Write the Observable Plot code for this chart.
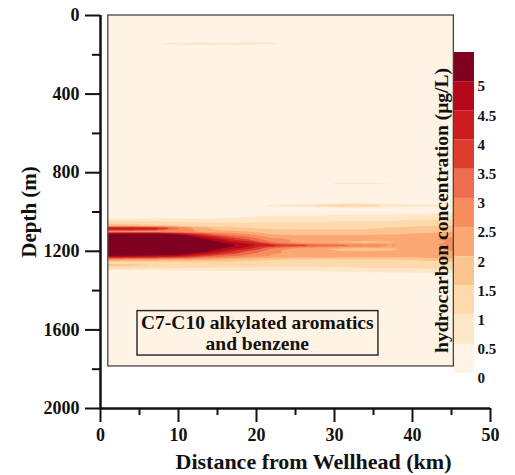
<!DOCTYPE html>
<html>
<head>
<meta charset="utf-8">
<script src="https://cdn.jsdelivr.net/npm/d3@7"></script>
<script src="https://cdn.jsdelivr.net/npm/@observablehq/plot@0.6"></script>
<style>
  html, body { margin: 0; padding: 0; background: #fff; }
  #wrap { position: relative; width: 515px; height: 475px; }
  #main { position: absolute; left: 0; top: 0; }
  #bar { position: absolute; left: 453px; top: 44px; }
</style>
</head>
<body>
<div id="wrap"><div id="main"></div><div id="bar"></div></div>
<script>
// ---- data ----
const distances = [1, 4, 7, 10, 13, 16, 19, 22, 25, 28, 31, 34, 37, 40, 43, 45.3]; // km
const depths = [0, 130, 143, 156, 840, 855, 870, 950, 967, 984, 1025, 1053, 1070, 1079, 1089, 1100,
  1110, 1125, 1140, 1155, 1170, 1185, 1200, 1215, 1227, 1240, 1255, 1270, 1285, 1300, 1330, 1786]; // m
// concentration (µg/L), one row per depth, one column per distance
const concentration = [
  [0,0,0,0,0,0,0,0,0,0,0,0,0,0,0,0],
  [0,0,0,0,0,0,0,0,0,0,0,0,0,0,0,0],
  [0,0,0.55,0.8,1.1,1.2,0.9,0.7,0.4,0,0,0,0,0,0,0],
  [0,0,0,0,0,0,0,0,0,0,0,0,0,0,0,0],
  [0,0,0,0,0,0,0,0,0,0,0,0,0,0,0,0],
  [0,0,0,0,0,0,0,0,0,0.4,0.7,0.7,0.6,0.3,0,0],
  [0,0,0,0,0,0,0,0,0,0,0,0,0,0,0,0],
  [0,0,0,0,0,0,0,0,0,0,0,0,0,0,0,0],
  [0,0,0,0,0,0,0.3,0.6,0.8,1.2,1.6,1.4,1.0,0.8,0.7,0.6],
  [0,0,0,0,0,0,0,0,0,0,0,0,0,0,0.1,0.2],
  [0.2,0.2,0.3,0.3,0.3,0.4,0.5,0.6,0.6,0.6,0.7,0.7,0.7,0.8,0.8,0.8],
  [1.3,1.3,1.2,1.1,1.0,1.0,1.0,1.0,1.0,1.0,1.1,1.1,1.1,1.2,1.2,1.3],
  [1.8,1.8,1.6,1.4,1.3,1.3,1.3,1.2,1.2,1.2,1.3,1.3,1.4,1.4,1.5,1.5],
  [4.4,4.3,4.1,3.0,2.1,1.7,1.5,1.4,1.4,1.4,1.4,1.4,1.5,1.6,1.7,1.8],
  [4.4,4.3,4.1,3.0,2.2,1.8,1.6,1.5,1.5,1.5,1.5,1.5,1.6,1.7,1.8,1.9],
  [2.4,2.4,2.4,2.4,2.3,2.2,2.0,1.7,1.6,1.6,1.6,1.6,1.7,1.8,1.9,2.0],
  [5.2,5.2,5.2,4.6,3.5,2.8,2.4,1.9,1.8,1.8,1.8,1.8,1.9,2.0,2.1,2.2],
  [6,6,6,5.6,4.6,3.6,3.0,2.3,2.2,2.2,2.2,2.2,2.2,2.3,2.4,2.5],
  [6,6,6,6,5.3,4.3,3.5,2.7,2.4,2.3,2.2,2.2,2.2,2.3,2.5,2.6],
  [6,6,6,6,5.8,4.9,4.2,3.0,2.3,2.0,1.9,1.8,1.9,2.1,2.4,2.6],
  [6,6,6,6,6,5.3,4.7,4.3,3.9,3.6,3.3,3.0,2.6,2.4,2.5,2.6],
  [6,6,6,6,5.8,4.9,4.2,3.0,2.4,2.0,1.9,1.8,1.9,2.1,2.4,2.6],
  [6,6,6,6,5.3,4.3,3.4,2.6,2.3,2.1,2.0,2.0,2.0,2.2,2.4,2.5],
  [5.6,5.5,5.4,5.2,4.4,3.6,3.0,2.5,2.4,2.3,2.3,2.3,2.3,2.3,2.4,2.4],
  [4.7,4.6,4.4,4.2,3.5,3.0,2.6,2.4,2.3,2.3,2.2,2.2,2.2,2.2,2.3,2.3],
  [2.8,2.7,2.6,2.4,2.2,2.0,1.8,1.6,1.5,1.5,1.5,1.5,1.5,1.6,1.8,1.9],
  [1.2,1.2,1.2,1.3,1.4,1.4,1.3,1.2,1.2,1.1,1.1,1.1,1.1,1.2,1.3,1.4],
  [1.7,1.6,1.5,1.4,1.3,1.3,1.3,1.2,1.2,1.2,1.2,1.2,1.2,1.3,1.4,1.4],
  [1.2,1.1,1.0,1.0,1.0,0.9,0.9,0.9,0.9,0.9,0.9,1.0,1.0,1.0,1.1,1.1],
  [0.3,0.3,0.3,0.4,0.5,0.5,0.5,0.5,0.5,0.5,0.6,0.6,0.7,0.7,0.7,0.7],
  [0,0,0,0,0,0,0,0,0,0,0,0,0,0.1,0.2,0.2],
  [0,0,0,0,0,0,0,0,0,0,0,0,0,0,0,0]
];
const levels = [0, 0.5, 1, 1.5, 2, 2.5, 3, 3.5, 4, 4.5, 5];
const levelColors = ["#fef3e4", "#fde7c9", "#fdd9ac", "#fcc48f", "#fba874", "#f78d5c",
  "#ee6c50", "#df3e2f", "#cb1c20", "#b5081b", "#7f0020"];
const xTicks = [0, 10, 20, 30, 40, 50];
const xMinorTicks = [5, 15, 25, 35, 45];
const yTicks = [0, 400, 800, 1200, 1600, 2000];
const yMinorTicks = [200, 600, 1000, 1400, 1800];
const xLabel = "Distance from Wellhead (km)";
const yLabel = "Depth (m)";
const colorLabel = "hydrocarbon concentration (μg/L)";
const annotation = [{text: "C7-C10 alkylated aromatics\nand benzene", distance: 20.1, depth: 1613}];

// ---- build table ----
const samples = [];
depths.forEach((d, i) => distances.forEach((k, j) => samples.push({distance: k, depth: d, value: concentration[i][j]})));
const [x1, x2] = d3.extent(distances);
const [y1, y2] = d3.extent(depths);
const box = [{x1, x2, y1, y2, value: 0}];

const color = {type: "threshold", domain: levels.slice(1), range: levelColors};
const font = "'Liberation Serif', 'Times New Roman', serif";

const main = Plot.plot({
  width: 515, height: 475,
  marginLeft: 100, marginRight: 25, marginTop: 15, marginBottom: 67,
  style: {fontFamily: font, fontWeight: "bold", background: "transparent", color: "#111"},
  x: {domain: [xTicks[0], xTicks[xTicks.length - 1]]},
  y: {domain: [yTicks[0], yTicks[yTicks.length - 1]], reverse: true},
  color,
  marks: [
    Plot.rect(box, {x1: "x1", x2: "x2", y1: "y1", y2: "y2", fill: "value"}),
    Plot.contour(samples, {x: "distance", y: "depth", fill: "value", thresholds: levels.slice(1),
      interpolate: "barycentric", x1, x2, y1, y2, pixelSize: 1, stroke: "none"}),
    Plot.rect(box, {x1: "x1", x2: "x2", y1: "y1", y2: "y2", fill: "none", stroke: "#444", strokeWidth: 1.3}),
    Plot.text(annotation, {x: "distance", y: "depth", text: "text", fontSize: 19.5, lineHeight: 1.1, fill: "#111", className: "anno"}),
    Plot.ruleX([xTicks[0]], {strokeWidth: 2.5, stroke: "#111"}),
    Plot.ruleY([yTicks[yTicks.length - 1]], {strokeWidth: 2.5, stroke: "#111"}),
    Plot.axisY({ticks: yTicks, tickSize: 15, tickPadding: 6, tickFormat: "d", fontSize: 18, strokeWidth: 2, label: null}),
    Plot.axisY({ticks: yMinorTicks, tickSize: 8, text: null, strokeWidth: 2, label: null}),
    Plot.axisX({ticks: xTicks, tickSize: 14, tickPadding: 6, tickFormat: "d", fontSize: 18, strokeWidth: 2, label: null}),
    Plot.axisX({ticks: xMinorTicks, tickSize: 7, text: null, strokeWidth: 2, label: null}),
    Plot.text([yLabel], {frameAnchor: "left", textAnchor: "middle", rotate: -90, dx: -71, fontSize: 21, lineAnchor: "middle"}),
    Plot.text([xLabel], {frameAnchor: "bottom", textAnchor: "middle", dx: 18, dy: 53, fontSize: 22, lineAnchor: "middle"}),
    Plot.text([colorLabel], {frameAnchor: "right", textAnchor: "middle", rotate: -90, dx: -49, dy: -1.5, fontSize: 19.5, lineAnchor: "middle"})
  ]
});
document.getElementById("main").appendChild(main);

// box around the annotation, sized from the text itself
const annoText = main.querySelector("g.anno text");
if (annoText) {
  const sb = main.getBoundingClientRect();
  const tb = annoText.getBoundingClientRect();
  d3.select(main).append("rect")
    .attr("x", tb.left - sb.left - 4).attr("y", tb.top - sb.top - 1)
    .attr("width", tb.width + 8).attr("height", tb.height + 2)
    .attr("fill", "none").attr("stroke", "#222").attr("stroke-width", 1.4);
}

const bins = levels.map((lo) => ({lo, hi: lo + 0.5}));
const bar = Plot.plot({
  width: 62, height: 350,
  marginTop: 8, marginBottom: 21, marginLeft: 1, marginRight: 41,
  style: {fontFamily: font, fontWeight: "bold", background: "transparent", color: "#111"},
  y: {domain: [levels[0], levels[levels.length - 1] + 0.5]},
  color,
  marks: [
    Plot.rect(bins, {y1: "lo", y2: "hi", fill: "lo"}),
    Plot.axisY({anchor: "right", ticks: levels, tickSize: 0, tickPadding: 3, tickFormat: d => String(d), dy: 5, fontSize: 15, label: null})
  ]
});
document.getElementById("bar").appendChild(bar);
</script>
</body>
</html>
